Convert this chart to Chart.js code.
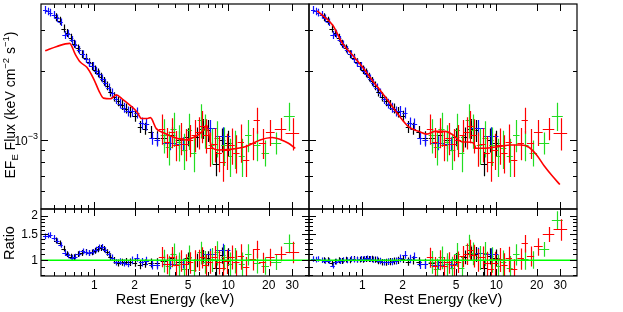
<!DOCTYPE html>
<html>
<head>
<meta charset="utf-8">
<script src="https://cdn.jsdelivr.net/npm/chart.js@4.4.1/dist/chart.umd.min.js"></script>
<style>
  html, body { margin: 0; background: #fff; }
  #wrap { position: relative; width: 623px; height: 312px; }
  #wrap canvas { position: absolute; left: 0; top: 0; }
</style>
</head>
<body>
<div id="wrap">
  <canvas id="leftTop" width="623" height="312"></canvas>
  <canvas id="leftRatio" width="623" height="312"></canvas>
  <canvas id="rightTop" width="623" height="312"></canvas>
  <canvas id="rightRatio" width="623" height="312"></canvas>
</div>
<script>
// energies in keV, fluxes in units of 1e-3 keV cm^-2 s^-1
const blueE = [0.43,0.45,0.47,0.50,0.53,0.56,0.60,0.64,0.68,0.72,0.77,0.82,0.87,0.92,0.97,1.03,1.09,1.15,1.21,1.28,1.36,1.45,1.55,1.66,1.78,1.92,2.08,2.25,2.45,2.70,2.95,3.65,4.6,7.3,9.2]
const blueDE = [0.009,0.009,0.01,0.011,0.011,0.012,0.013,0.014,0.015,0.016,0.017,0.018,0.019,0.02,0.021,0.022,0.024,0.025,0.027,0.029,0.032,0.034,0.037,0.042,0.047,0.052,0.057,0.063,0.073,0.085,0.095,0.35,0.5,0.75,1.0]
const blueFlux = [3.68,3.62,3.58,3.50,3.38,3.25,2.86,2.90,2.72,2.60,2.46,2.36,2.25,2.16,2.10,2.00,1.93,1.85,1.77,1.69,1.60,1.50,1.44,1.38,1.33,1.33,1.31,1.18,1.17,1.02,1.00,0.97,0.96,1.13,1.04]
const blueErr = [0.028,0.028,0.028,0.028,0.028,0.028,0.03,0.03,0.03,0.03,0.03,0.03,0.03,0.03,0.03,0.03,0.03,0.03,0.032,0.032,0.035,0.035,0.038,0.04,0.04,0.045,0.045,0.05,0.05,0.055,0.055,0.06,0.06,0.07,0.08]
const blueRatioL = [1.45,1.47,1.48,1.42,1.35,1.27,1.12,1.08,1.04,1.06,1.11,1.15,1.13,1.12,1.14,1.18,1.22,1.23,1.17,1.10,1.04,0.97,0.98,0.96,0.95,1.00,1.04,0.97,0.99,0.93,0.93,0.94,0.95,1.10,1.18]
const blueRatioR = [1.02,1.01,1.02,1.00,0.99,0.99,0.92,0.98,0.99,1.00,1.00,1.02,1.01,1.01,1.02,1.02,1.03,1.02,1.01,1.01,0.99,0.97,0.98,0.98,0.99,1.03,1.09,1.02,1.06,0.94,0.94,0.93,0.94,1.12,1.10]

const blackE = [0.52,0.55,0.59,0.63,0.67,0.71,0.76,0.81,0.86,0.91,0.96,1.01,1.06,1.12,1.18,1.25,1.32,1.40,1.50,1.60,1.72,1.85,2.00,2.20,2.40,2.65,2.95,3.3,3.8,4.3,5.0,5.8,6.5,7.0,8.1,9.0,10.0]
const blackDE = [0.011,0.011,0.012,0.013,0.014,0.015,0.016,0.017,0.018,0.019,0.02,0.021,0.022,0.023,0.024,0.026,0.028,0.03,0.033,0.036,0.04,0.044,0.05,0.055,0.065,0.075,0.085,0.12,0.15,0.18,0.2,0.22,0.25,0.25,0.3,0.35,0.4]
const blackFlux = [3.42,3.30,3.05,2.92,2.78,2.62,2.50,2.36,2.28,2.18,2.10,2.02,1.96,1.88,1.80,1.72,1.62,1.54,1.47,1.42,1.37,1.32,1.27,1.14,1.12,1.08,1.02,1.02,1.05,1.00,1.03,1.03,1.12,1.10,0.79,1.00,0.97]
const blackErr = [0.03,0.03,0.03,0.03,0.03,0.03,0.03,0.03,0.03,0.03,0.03,0.032,0.032,0.032,0.034,0.034,0.036,0.036,0.038,0.04,0.04,0.042,0.045,0.05,0.05,0.055,0.06,0.07,0.07,0.08,0.08,0.09,0.09,0.1,0.11,0.11,0.12]
const blackRatioL = [1.36,1.30,1.20,1.10,1.06,1.05,1.10,1.12,1.14,1.12,1.13,1.16,1.19,1.21,1.19,1.13,1.06,1.00,0.96,0.97,0.98,0.97,0.96,0.93,0.95,0.96,0.96,0.99,1.03,0.98,1.03,1.00,1.06,1.03,0.88,1.08,1.06]
const blackRatioR = [1.00,1.00,0.96,0.98,1.00,0.99,1.01,1.00,1.02,1.01,1.01,1.01,1.02,1.02,1.02,1.01,0.99,0.97,0.97,0.98,0.99,1.00,1.02,0.98,1.00,0.98,0.95,0.96,0.98,0.97,1.02,1.05,1.12,1.10,0.88,1.07,1.04]

const redE = [3.2,3.5,3.8,4.1,4.4,4.8,5.2,5.6,6.0,6.4,6.8,7.3,7.9,8.5,9.1,9.8,10.6,11.5,12.4,13.6,15.2,16.3,18.0,20.6,24.6,30.2]
const redDE = [0.12,0.13,0.14,0.15,0.16,0.17,0.18,0.19,0.2,0.21,0.22,0.25,0.28,0.3,0.32,0.35,0.38,0.42,0.46,0.5,0.6,0.6,0.8,1.2,2.0,3.0]
const redFlux = [1.12,0.98,1.08,0.95,1.02,0.96,1.00,1.05,1.08,1.15,1.05,0.92,0.96,0.88,0.80,0.90,0.95,0.88,0.98,0.82,0.97,1.22,0.97,1.08,1.12,1.07]
const redErr = [0.14,0.14,0.14,0.14,0.15,0.15,0.15,0.15,0.15,0.15,0.16,0.16,0.16,0.17,0.17,0.17,0.17,0.18,0.18,0.15,0.15,0.12,0.14,0.12,0.1,0.15]
const redRatioL = [1.06,0.95,1.06,0.93,1.00,0.94,0.97,1.00,1.01,1.05,0.93,0.98,1.06,0.98,0.89,0.99,1.06,0.97,1.07,0.90,1.02,1.19,0.97,1.05,1.11,1.14]
const redRatioR = [1.05,0.91,1.01,0.91,0.97,0.93,0.98,1.07,1.11,1.18,1.08,1.01,1.05,0.96,0.87,0.96,1.02,0.93,1.03,0.87,1.03,1.30,1.07,1.24,1.50,1.62]

const greenE = [3.3,3.6,3.9,4.3,4.7,5.1,5.5,6.2,6.7,7.5,8.3,9.3,10.3,11.3,12.6,14.1,16.4,18.9,22.8,28.6]
const greenDE = [0.12,0.13,0.14,0.15,0.16,0.17,0.18,0.2,0.22,0.25,0.28,0.3,0.34,0.38,0.44,0.55,0.7,0.9,1.6,2.2]
const greenFlux = [1.05,0.93,1.12,0.98,0.90,1.10,0.88,1.22,1.10,0.95,1.02,0.95,0.85,0.92,0.85,1.05,0.95,0.88,0.97,1.27]
const greenErr = [0.16,0.16,0.16,0.17,0.17,0.17,0.17,0.16,0.16,0.17,0.17,0.18,0.18,0.18,0.18,0.15,0.14,0.12,0.1,0.13]
const greenRatioL = [1.00,0.91,1.10,0.95,0.87,1.06,0.86,1.13,0.98,1.02,1.13,1.06,0.94,1.01,0.94,1.10,0.96,0.92,0.97,1.30]
const greenRatioR = [0.98,0.87,1.05,0.94,0.89,1.10,0.89,1.26,1.12,1.05,1.12,1.02,0.91,0.97,0.89,1.10,1.02,1.01,1.19,1.87]

const modelLeftE = [0.43,0.525,0.655,0.72,0.785,0.88,0.99,1.08,1.17,1.32,1.46,1.61,1.86,2.09,2.25,2.5,2.62,2.9,3.35,3.87,4.73,5.6,6.5,6.88,7.5,8.4,10.3,13.7,17.3,21.2,24.4,28.1,31.6]
const modelLeftF = [2.44,2.55,2.63,2.36,2.18,2.07,1.84,1.64,1.52,1.51,1.57,1.51,1.41,1.32,1.24,1.24,1.25,1.12,1.07,1.03,1.0,1.03,1.1,1.16,0.935,0.905,0.91,0.94,1.0,1.025,1.005,0.967,0.92]
const modelRightE = [0.46,0.6,0.711,0.85,1.0,1.2,1.407,1.6,1.87,2.22,2.63,3.03,3.5,4.14,4.77,5.5,6.7,7.1,8.2,10.3,12.9,15.3,17.5,20,22.8,26,29.8]
const modelRightF = [3.64,3.16,2.63,2.33,2.08,1.8,1.6,1.45,1.28,1.14,1.09,1.06,1.09,1.09,1.05,0.983,0.973,0.92,0.92,0.935,0.951,0.951,0.93,0.86,0.77,0.7,0.64]

const xTickLabels = [1, 2, 5, 10, 20, 30]
const xMinorTicks = [0.5, 0.6, 0.7, 0.8, 0.9, 3, 4, 6, 7, 8, 9]
const fluxMajorTicks = [1]
const fluxMinorTicks = [0.6, 0.7, 0.8, 0.9, 2, 3]
const ratioTickLabels = [1, 1.5, 2]
const ratioMinorTicks = [0.8, 0.9, 1.1, 1.2, 1.3, 1.4, 1.6, 1.7, 1.8, 1.9]

const FONT = '"Liberation Sans", Arial, Helvetica, sans-serif'
const BLUE = '#1010ff', BLACK = '#000000', RED = '#ff0000', GREEN = '#22dd22'

function points(E, dE, v, err) {
    return E.map((e, i) => ({
        x: e, y: v[i],
        xMin: e - dE[i], xMax: e + dE[i],
        yMin: v[i] * (1 - err[i]), yMax: v[i] * (1 + err[i])
    }))
}

function dataSet(data, color, order) {
    return { data, borderColor: color, backgroundColor: color, pointRadius: 0, showLine: false, errorBars: true, order }
}

function lineSet(E, v, color, width) {
    return {
        data: E.map((e, i) => ({ x: e, y: v[i] })),
        borderColor: color, borderWidth: width, pointRadius: 0, showLine: true,
        cubicInterpolationMode: 'monotone', order: 0
    }
}

const errorBars = {
    id: 'errorBars',
    afterDatasetDraw(chart, args) {
        const ds = chart.data.datasets[args.index]
        if (!ds.errorBars) return
        const ctx = chart.ctx, a = chart.chartArea, x = chart.scales.x, y = chart.scales.y
        ctx.save()
        ctx.beginPath()
        ctx.rect(a.left, a.top, a.right - a.left, a.bottom - a.top)
        ctx.clip()
        ctx.strokeStyle = ds.borderColor
        ctx.lineWidth = 1.2
        ctx.beginPath()
        ds.data.forEach(p => {
            const px = Math.round(x.getPixelForValue(p.x)) + 0.5
            const py = Math.round(y.getPixelForValue(p.y)) + 0.5
            ctx.moveTo(x.getPixelForValue(p.xMin) - 1, py)
            ctx.lineTo(x.getPixelForValue(p.xMax) + 1, py)
            ctx.moveTo(px, y.getPixelForValue(p.yMax) - 1)
            ctx.lineTo(px, y.getPixelForValue(p.yMin) + 1)
        })
        ctx.stroke()
        ctx.restore()
    }
}

function drawTitle(ctx, parts, cx, cy) {
    let total = 0
    parts.forEach(p => { ctx.font = p[1] + 'px ' + FONT; p.w = ctx.measureText(p[0]).width; total += p.w })
    ctx.save()
    ctx.translate(cx, cy)
    ctx.rotate(-Math.PI / 2)
    ctx.textAlign = 'left'
    ctx.textBaseline = 'alphabetic'
    let px = -total / 2
    parts.forEach(p => {
        ctx.font = p[1] + 'px ' + FONT
        ctx.fillText(p[0], px, 5 + p[2])
        px += p.w
    })
    ctx.restore()
}

function drawDecor(chart, cfg) {
    const ctx = chart.ctx, a = chart.chartArea, x = chart.scales.x, y = chart.scales.y
    ctx.save()
    ctx.strokeStyle = '#000'
    ctx.lineWidth = 1
    ctx.beginPath()
    const xt = (v, len) => {
        const px = Math.round(x.getPixelForValue(v)) + 0.5
        ctx.moveTo(px, a.top); ctx.lineTo(px, a.top + len)
        ctx.moveTo(px, a.bottom); ctx.lineTo(px, a.bottom - len)
    }
    const yt = (v, len) => {
        const py = Math.round(y.getPixelForValue(v)) + 0.5
        ctx.moveTo(a.left, py); ctx.lineTo(a.left + len, py)
        ctx.moveTo(a.right, py); ctx.lineTo(a.right - len, py)
    }
    xTickLabels.forEach(v => xt(v, 7))
    xMinorTicks.forEach(v => xt(v, 4))
    cfg.yMajor.forEach(v => yt(v, 7))
    cfg.yMinor.forEach(v => yt(v, 4))
    ctx.stroke()
    ctx.lineWidth = 1.2
    ctx.strokeRect(a.left, a.top, a.right - a.left, a.bottom - a.top)

    ctx.fillStyle = '#000'
    if (cfg.xLabels) {
        ctx.font = '12px ' + FONT
        ctx.textAlign = 'center'
        ctx.textBaseline = 'middle'
        xTickLabels.forEach(v => ctx.fillText(String(v), x.getPixelForValue(v), a.bottom + 10))
        ctx.font = '14.5px ' + FONT
        ctx.fillText('Rest Energy (keV)', (a.left + a.right) / 2, 300)
    }
    if (cfg.kind === 'flux' && cfg.yLabels) {
        const py = y.getPixelForValue(1)
        ctx.textBaseline = 'alphabetic'
        ctx.textAlign = 'left'
        ctx.font = '9px ' + FONT
        const sw = ctx.measureText('−3').width
        ctx.font = '12px ' + FONT
        const mw = ctx.measureText('10').width
        const right = a.left - 3
        ctx.fillText('10', right - sw - mw, py + 5)
        ctx.font = '9px ' + FONT
        ctx.fillText('−3', right - sw, py - 1)
        drawTitle(ctx, [['EF', 14, 0], ['E', 9.5, 3], [' Flux (keV cm', 14, 0], ['−2', 9.5, -6],
            [' s', 14, 0], ['−1', 9.5, -6], [')', 14, 0]], 10, 105)
    }
    if (cfg.kind === 'ratio' && cfg.yLabels) {
        ctx.font = '12px ' + FONT
        ctx.textAlign = 'right'
        ctx.textBaseline = 'middle'
        ratioTickLabels.forEach(v => ctx.fillText(String(v), a.left - 3, y.getPixelForValue(v)))
        drawTitle(ctx, [['Ratio', 14.5, 0]], 9, 243)
    }
    ctx.restore()
}

function makePanel(id, pad, yMin, yMax, datasets, cfg) {
    return new Chart(document.getElementById(id).getContext('2d'), {
        type: 'scatter',
        data: { datasets },
        options: {
            responsive: false,
            animation: false,
            devicePixelRatio: 1,
            events: [],
            layout: { padding: pad },
            scales: {
                x: { type: 'logarithmic', min: 0.4, max: 40, display: false },
                y: { type: 'logarithmic', min: yMin, max: yMax, display: false }
            },
            plugins: { legend: { display: false }, tooltip: { enabled: false } }
        },
        plugins: [errorBars, { id: 'decor', afterDraw: chart => drawDecor(chart, cfg) }]
    })
}

const W = 623, H = 312
const topPad = (l, r) => ({ left: l, right: W - r, top: 4, bottom: H - 209 })
const ratioPad = (l, r) => ({ left: l, right: W - r, top: 209, bottom: H - 276 })

function fluxSets(model) {
    return [
        dataSet(points(blackE, blackDE, blackFlux, blackErr), BLACK, 4),
        dataSet(points(blueE, blueDE, blueFlux, blueErr), BLUE, 3),
        dataSet(points(greenE, greenDE, greenFlux, greenErr), GREEN, 2),
        dataSet(points(redE, redDE, redFlux, redErr), RED, 1),
        model
    ]
}

function ratioSets(bl, bk, rd, gr) {
    return [
        dataSet(points(blackE, blackDE, bk, blackErr), BLACK, 4),
        dataSet(points(blueE, blueDE, bl, blueErr), BLUE, 3),
        dataSet(points(greenE, greenDE, gr, greenErr), GREEN, 2),
        dataSet(points(redE, redDE, rd, redErr), RED, 1),
        lineSet([0.4, 40], [1, 1], '#00ff00', 1.5)
    ]
}

makePanel('leftTop', topPad(41, 309), 0.501, 3.9,
    fluxSets(lineSet(modelLeftE, modelLeftF, RED, 1.6)),
    { kind: 'flux', yMajor: fluxMajorTicks, yMinor: fluxMinorTicks, yLabels: true, xLabels: false })
makePanel('rightTop', topPad(309, 577), 0.501, 3.9,
    fluxSets(lineSet(modelRightE, modelRightF, RED, 1.6)),
    { kind: 'flux', yMajor: fluxMajorTicks, yMinor: fluxMinorTicks, yLabels: false, xLabels: false })
makePanel('leftRatio', ratioPad(41, 309), 0.783, 2.22,
    ratioSets(blueRatioL, blackRatioL, redRatioL, greenRatioL),
    { kind: 'ratio', yMajor: ratioTickLabels, yMinor: ratioMinorTicks, yLabels: true, xLabels: true })
makePanel('rightRatio', ratioPad(309, 577), 0.783, 2.22,
    ratioSets(blueRatioR, blackRatioR, redRatioR, greenRatioR),
    { kind: 'ratio', yMajor: ratioTickLabels, yMinor: ratioMinorTicks, yLabels: false, xLabels: true })
</script>
</body>
</html>
